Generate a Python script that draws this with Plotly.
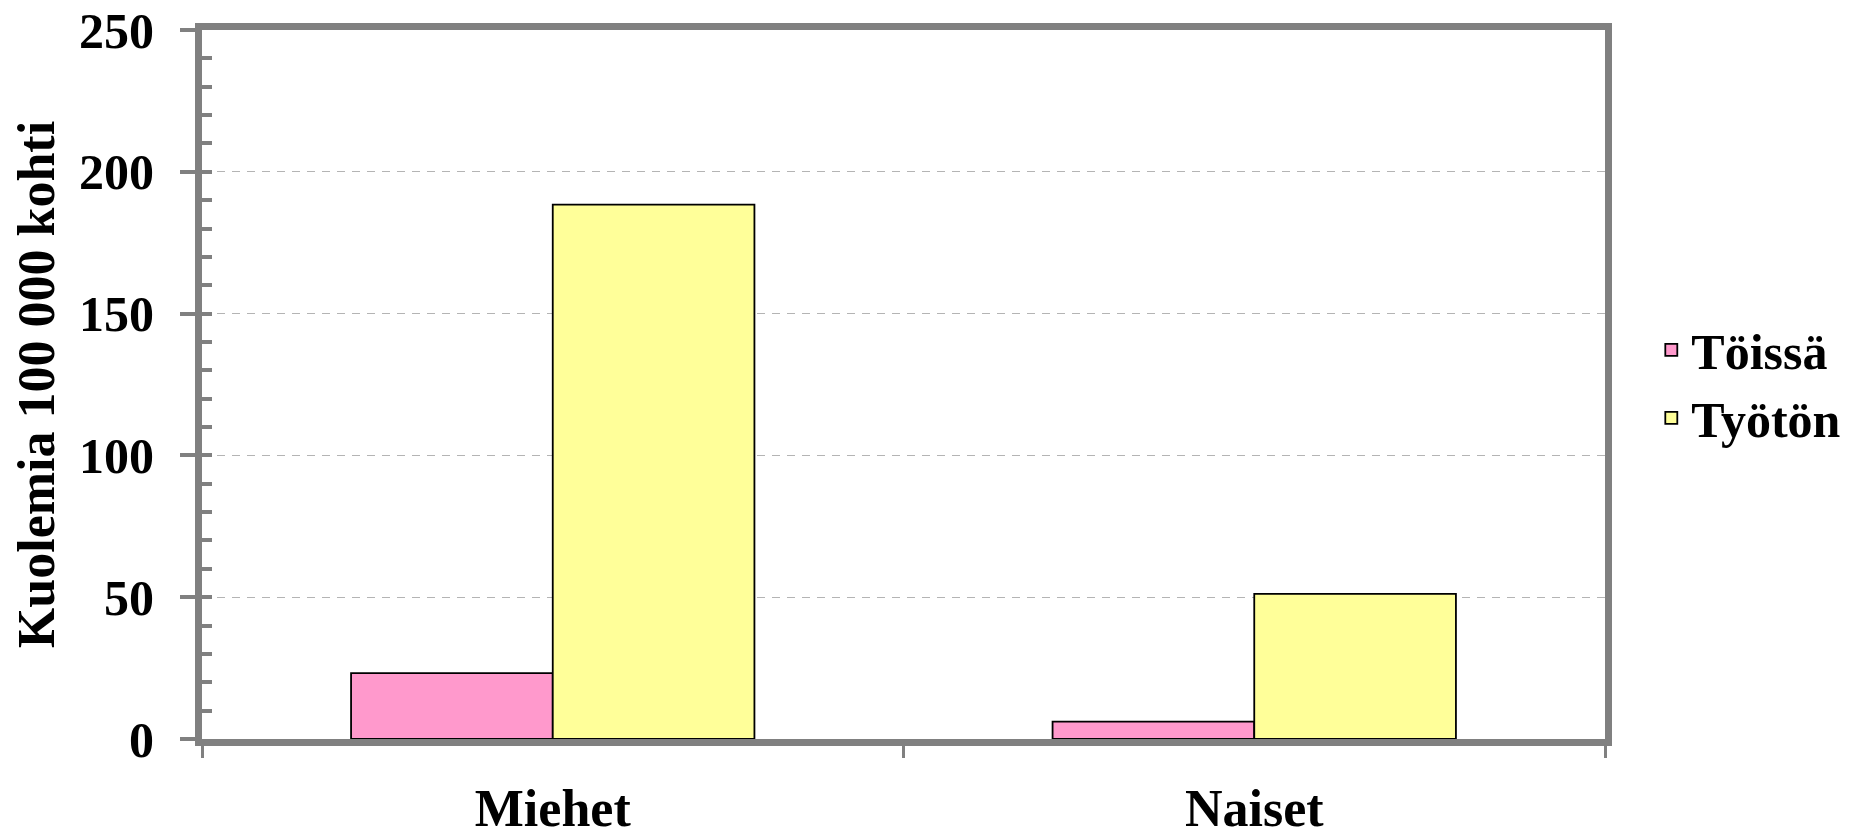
import plotly.graph_objects as go

categories = ["Miehet", "Naiset"]
toissa = [23.2, 6.1]
tyoton = [188.4, 51.2]
series_names = ["Töissä", "Työtön"]
y_title = "Kuolemia 100 000 kohti"
y_ticks = [0, 50, 100, 150, 200, 250]

FONT = "Liberation Serif, Times New Roman, serif"
GRAY = "#808080"

fig = go.Figure()
fig.add_trace(go.Bar(name=series_names[0], x=categories, y=toissa,
                     marker=dict(color="#FF99CC", line=dict(color="black", width=1.8))))
fig.add_trace(go.Bar(name=series_names[1], x=categories, y=tyoton,
                     marker=dict(color="#FFFF99", line=dict(color="black", width=1.8))))
# helper trace for the inner minor tick axis
fig.add_trace(go.Scatter(x=categories, y=[None, None], yaxis="y2", showlegend=False,
                         hoverinfo="skip", mode="markers"))

fig.update_layout(
    width=1853, height=831,
    margin=dict(l=194, r=256, t=22, b=100, autoexpand=False),
    paper_bgcolor="white", plot_bgcolor="white",
    barmode="group", bargap=0.425, bargroupgap=0,
    font=dict(family=FONT, color="black", size=50, weight="bold"),
    showlegend=True,
    legend=dict(x=1.033, xanchor="left", y=0.501, yanchor="middle",
                font=dict(family=FONT, size=50, color="black", weight="bold"),
                bgcolor="rgba(0,0,0,0)", itemwidth=30, tracegroupgap=0),
    xaxis=dict(
        type="category", showgrid=False, zeroline=False,
        showline=True, linecolor=GRAY, linewidth=7, mirror=True,
        ticks="outside", tickson="boundaries", ticklen=12, tickwidth=3, tickcolor=GRAY,
        tickfont=dict(family=FONT, size=52, color="black", weight="bold"),
        ticklabelstandoff=18, ticklabeloverflow="allow",
    ),
    yaxis=dict(
        range=[0, 250], tickvals=y_ticks, ticktext=[str(v) for v in y_ticks],
        showgrid=True, gridcolor="#b4b4b4", gridwidth=1.2, griddash="8px,7px",
        zeroline=False,
        showline=True, linecolor=GRAY, linewidth=7, mirror=True,
        ticks="outside", ticklen=15, tickwidth=4, tickcolor=GRAY,
        tickfont=dict(family=FONT, size=50, color="black", weight="bold"),
        ticklabelstandoff=16, ticklabeloverflow="allow",
        title=dict(text=y_title, standoff=18,
                   font=dict(family=FONT, size=52, color="black", weight="bold")),
    ),
    yaxis2=dict(
        range=[0, 250], overlaying="y", side="left", anchor="x",
        dtick=10, tick0=0, ticks="inside", ticklen=10, tickwidth=4, tickcolor=GRAY,
        showticklabels=False, showgrid=False, zeroline=False, showline=False,
    ),
)

fig.write_html("out.html")
